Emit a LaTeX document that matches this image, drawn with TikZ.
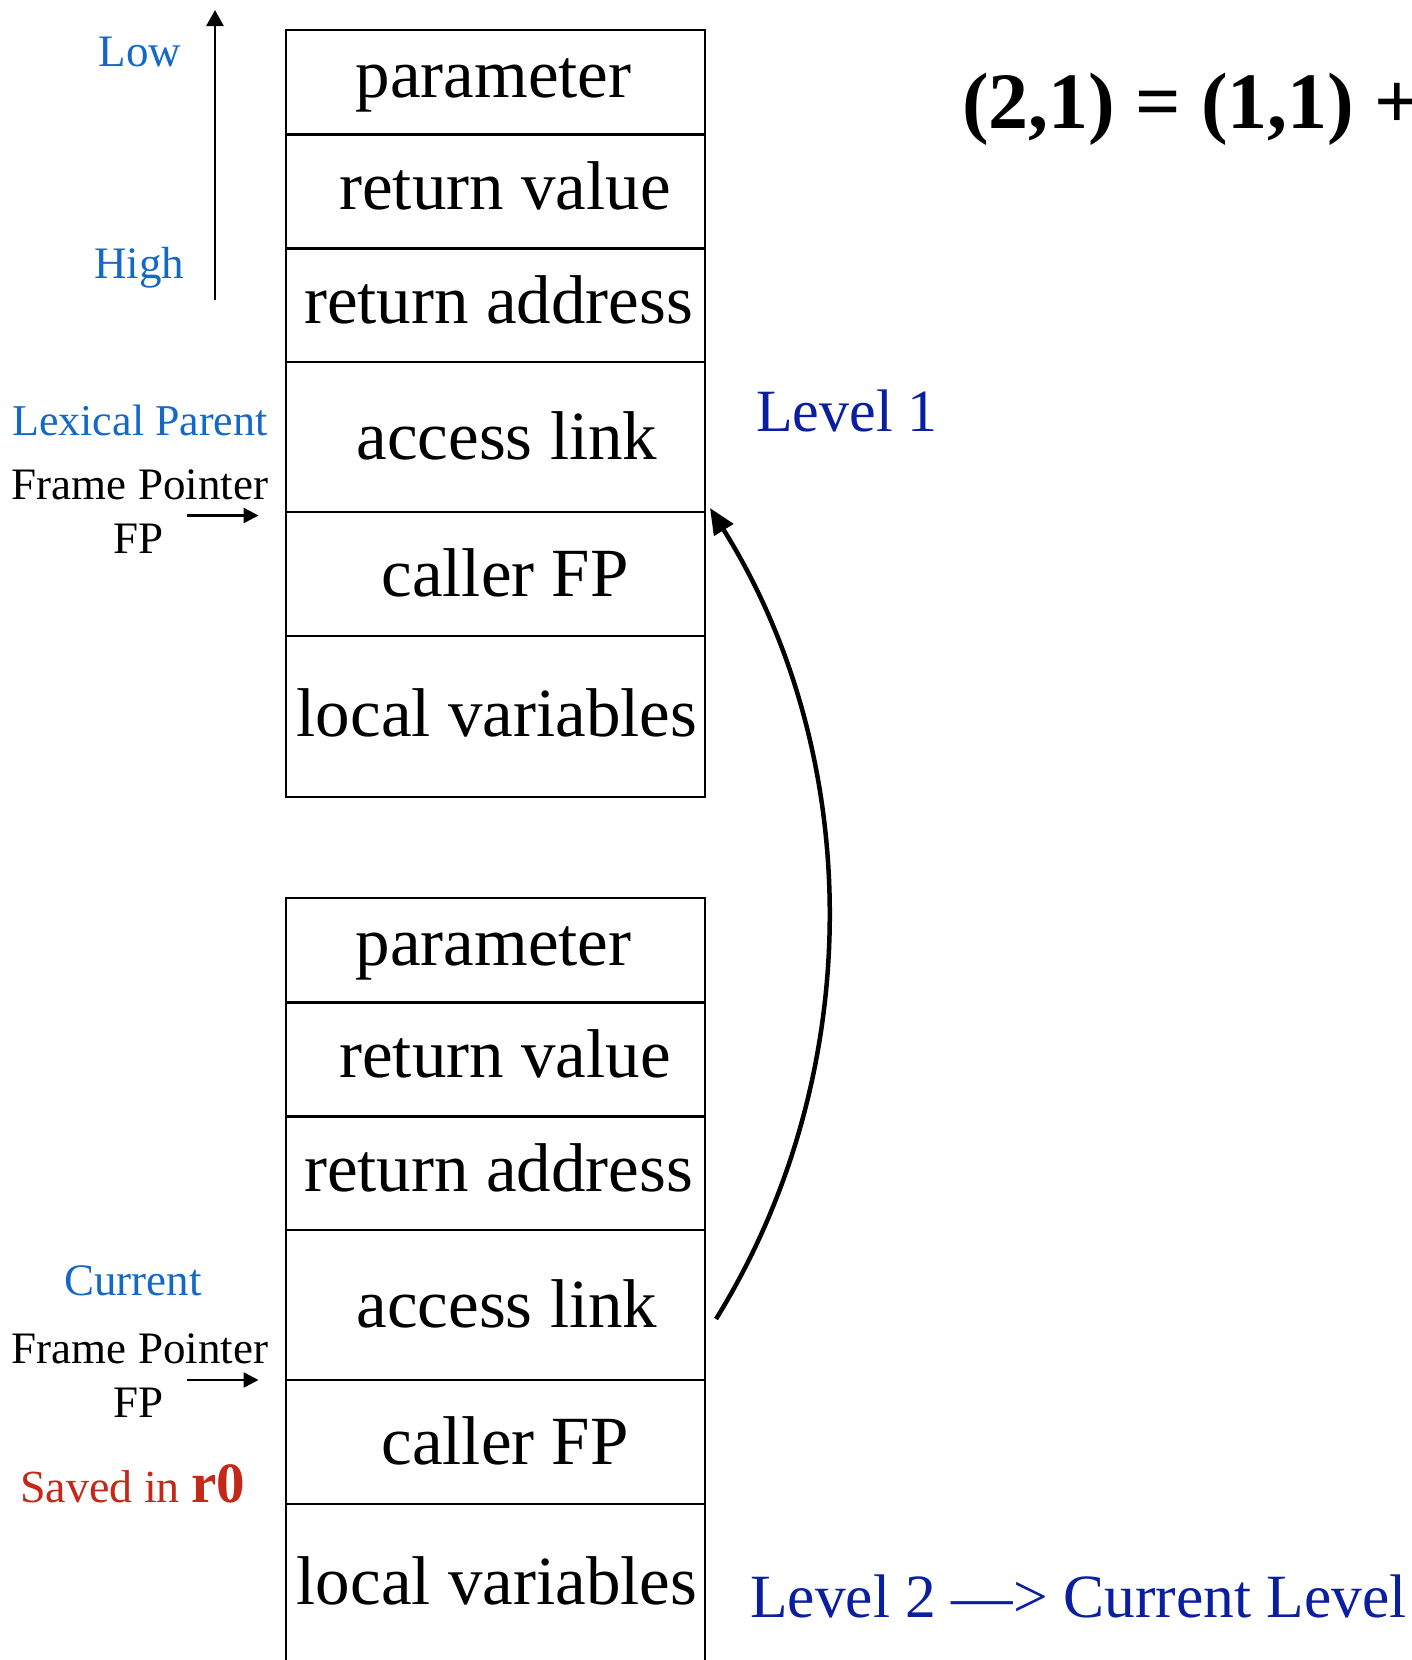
\documentclass[tikz,border=0pt]{standalone}
\usepackage{fontspec}
\setmainfont{Liberation Serif}
\usetikzlibrary{arrows.meta}
\definecolor{lblue}{RGB}{20,105,200}
\definecolor{dblue}{RGB}{10,30,160}
\definecolor{sred}{RGB}{196,40,24}
\begin{document}
\begin{tikzpicture}[x=1pt,y=-1pt,
  cell/.style={anchor=base, inner sep=0pt, font=\fontsize{69}{80}\selectfont},
  lab/.style={anchor=base, inner sep=0pt, font=\fontsize{45}{54}\selectfont},
  lev/.style={anchor=base west, inner sep=0pt, text=dblue, font=\fontsize{60}{72}\selectfont},
  framebox/.style={line width=2.5pt},
  ptr/.style={line width=2.5pt, -{Triangle[length=15pt,width=15pt]}},
]
\useasboundingbox (0,0) rectangle (1412,1660);
\clip (0,0) rectangle (1412,1660);
\fill[white] (0,0) rectangle (1412,1660);

% stack frames
\foreach \dy/\nm in {0/a,868/b} {
  \draw[framebox] (286,{30+\dy}) rectangle (705,{797+\dy});
  \foreach \yy in {134.5,248.5,362,512,636}
    \draw[framebox] (286,{\yy+\dy}) -- (705,{\yy+\dy});
  \node[cell] (\nm-par) at (493.5,{97+\dy}) {parameter};
  \node[cell] (\nm-rv)  at (505,{209+\dy}) {return value};
  \node[cell] (\nm-ra)  at (498.5,{323+\dy}) {return address};
  \node[cell] (\nm-al)  at (507,{459+\dy}) {access link};
  \node[cell] (\nm-cfp) at (505,{596+\dy}) {caller FP};
  \node[cell] (\nm-lv)  at (497,{736+\dy}) {local variables};
}

% address direction
\coordinate (dirB) at (215,300);
\coordinate (dirT) at (215,10);
\draw[line width=2.5pt, -{Triangle[length=16pt,width=17pt]}] (dirB) -- (dirT);
\node[lab, text=lblue] (low)  at (140,66) {Low};
\node[lab, text=lblue] (high) at (139,278) {High};

% lexical parent FP
\node[lab, text=lblue, font=\fontsize{44}{52}\selectfont] (lex) at (140,435) {Lexical Parent};
\node[lab] (fpn1) at (140,499) {Frame Pointer};
\node[lab] (fp1) at (139,553) {FP};
\coordinate (p1s) at (187,515.5);
\coordinate (p1e) at (258.5,515.5);
\draw[ptr] (p1s) -- (p1e);

% current FP
\node[lab, text=lblue] (cur) at (133,1295) {Current};
\node[lab] (fpn2) at (140,1363) {Frame Pointer};
\node[lab] (fp2) at (139,1417) {FP};
\coordinate (p2s) at (187,1380);
\coordinate (p2e) at (258.5,1380);
\draw[ptr] (p2s) -- (p2e);
\node[anchor=base west, inner sep=0pt, text=sred, font=\fontsize{46}{55}\selectfont] (saved) at (20,1502)
  {Saved in {\fontsize{57}{68}\selectfont\bfseries r0}};

% right side
\node[anchor=base west, inner sep=0pt, font=\fontsize{80}{96}\selectfont\bfseries] (eq) at (962,128) {(2,1) = (1,1) +};
\node[lev] (lev1) at (756,431) {Level 1};
\node[lev, font=\fontsize{61.5}{72}\selectfont] (lev2) at (750,1617) {Level 2 —> Current Level};

% access link arrow
\coordinate (alstart) at (716,1319);
\coordinate (lpfp) at (710,508);
\draw[line width=4.5pt, -{Triangle[length=26pt,width=22pt]}] (alstart) .. controls (869,1072) and (864,754) .. (lpfp);
\end{tikzpicture}
\end{document}
